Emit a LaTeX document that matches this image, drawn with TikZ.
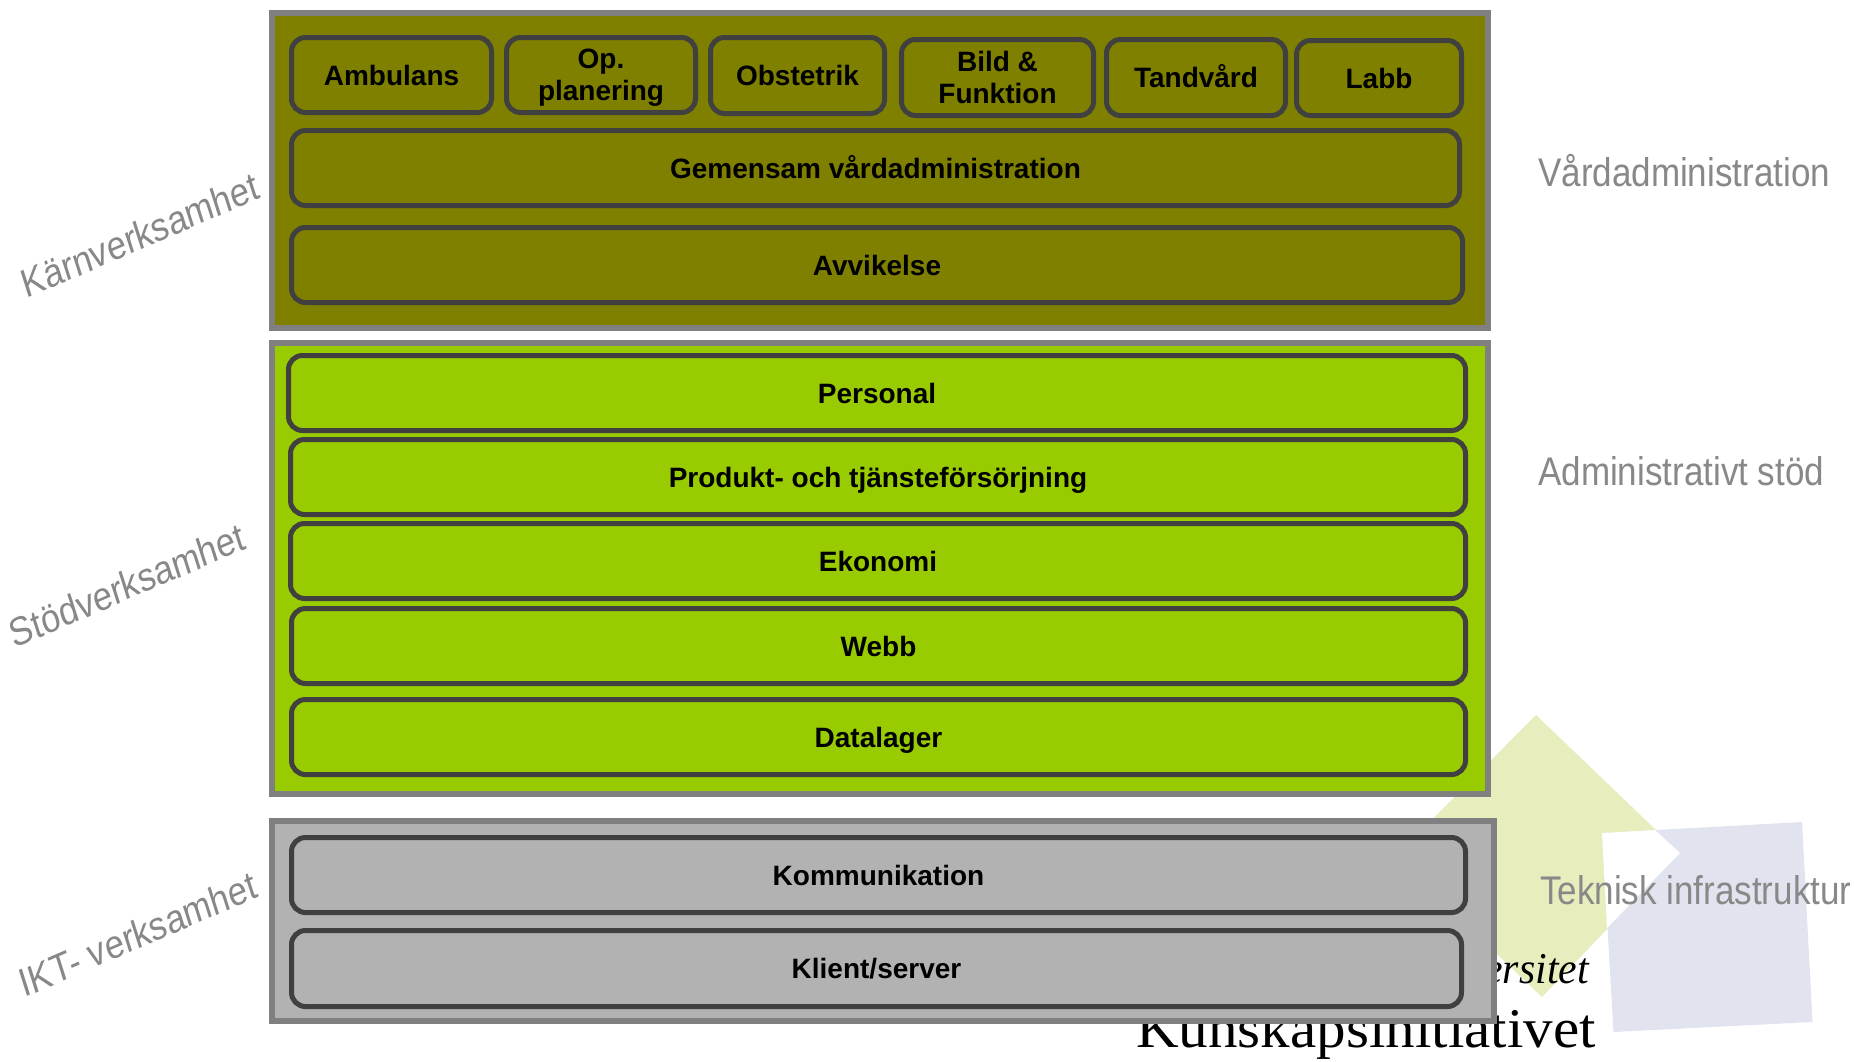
\documentclass[tikz,border=0pt]{standalone}
\usepackage{fontspec}
\setmainfont{Liberation Sans}
\newfontfamily\lblfont[FakeStretch=0.875]{Liberation Sans}
\newfontfamily\slantfont{Liberation Sans}
\newfontfamily\boxfont{Liberation Sans}
\newfontfamily\logofont[FakeStretch=1.055]{Liberation Serif}
\newfontfamily\logoitfont[FakeStretch=0.95]{Liberation Serif}
\definecolor{olivefill}{HTML}{808000}
\definecolor{greenfill}{HTML}{99CC00}
\definecolor{greyfill}{HTML}{B2B2B2}
\definecolor{edgeout}{HTML}{808080}
\definecolor{edgein}{HTML}{404040}
\definecolor{labelgrey}{HTML}{888888}
\definecolor{logoyellow}{HTML}{E8EDBE}
\definecolor{logoblue}{HTML}{E1E4EE}
\tikzset{
  panel/.style={draw=edgeout,line width=6pt,inner sep=0pt,outer sep=0pt},
  modbox/.style={draw=edgein,line width=5pt,rounded corners=14pt,inner sep=0pt,outer sep=0pt,
    align=center,font=\boxfont\bfseries\fontsize{28}{32}\selectfont,text=black},
  sidelabel/.style={text=labelgrey,font=\lblfont\fontsize{40}{46}\selectfont,inner sep=0pt,anchor=west},
  slantlabel/.style={text=labelgrey,font=\slantfont\fontsize{40}{46}\selectfont,inner sep=0pt,transform shape}
}
% a line of box text whose centring ignores its descenders
\newcommand{\capline}[1]{\raisebox{0pt}[20pt][0pt]{#1}}
% outer-edge coordinates: name, x1, y1, x2, y2, fill, text
\newcommand{\panelat}[6]{%
  \pgfmathsetmacro{\boxw}{#4-#2-6}\pgfmathsetmacro{\boxh}{#5-#3-6}%
  \node[panel,fill=#6,minimum width=\boxw pt,minimum height=\boxh pt] (#1) at ({(#2+#4)/2},{(#3+#5)/2}) {};}
\newcommand{\modat}[7]{%
  \pgfmathsetmacro{\boxw}{#4-#2-5}\pgfmathsetmacro{\boxh}{#5-#3-5}%
  \node[modbox,fill=#6,minimum width=\boxw pt,minimum height=\boxh pt] (#1) at ({(#2+#4)/2},{(#3+#5)/2}) {#7};}
\begin{document}
\begin{tikzpicture}[x=1pt,y=-1pt]
\useasboundingbox (0,0) rectangle (1854,1061);
\fill[white] (0,0) rectangle (1854,1061);
% logo
\fill[logoyellow] (1536,715) -- (1680,853) -- (1542,997) -- (1395,857) -- cycle;
\fill[logoblue] (1602,833) -- (1802,822) -- (1812.5,1022) -- (1613.5,1032) -- cycle;
\fill[white] (1602,833) -- (1655,830) -- (1680,853) -- (1607,928) -- cycle;
\node[font=\logoitfont\itshape\fontsize{44}{50}\selectfont,text=black,inner sep=0pt,anchor=base east] (logoa) at (1589,983) {ersitet};
\node[font=\logofont\fontsize{56}{60}\selectfont,text=black,inner sep=0pt,anchor=base west] (logob) at (1136,1047) {Kunskapsinitiativet};
% panels
\panelat{pa}{269}{10}{1491}{331}{olivefill}
\panelat{pb}{269}{340}{1491}{797}{greenfill}
\panelat{pc}{269}{818}{1497}{1024}{greyfill}
% top row
\modat{ambulans}{289}{35}{494}{115}{olivefill}{\capline{Ambulans}}
\modat{op}{504}{35}{698}{115}{olivefill}{Op.\\\capline{planering}}
\modat{obstetrik}{708}{35}{887}{116}{olivefill}{\capline{Obstetrik}}
\modat{bild}{899}{37}{1096}{118}{olivefill}{Bild \&\\\capline{Funktion}}
\modat{tand}{1104}{37}{1288}{118}{olivefill}{\capline{Tandvård}}
\modat{labb}{1294}{38}{1464}{118}{olivefill}{\capline{Labb}}
\modat{gem}{289}{128}{1462}{208}{olivefill}{\capline{Gemensam vårdadministration}}
\modat{avv}{289}{225}{1465}{305}{olivefill}{\capline{Avvikelse}}
% green
\modat{pers}{286}{353}{1468}{433}{greenfill}{\capline{Personal}}
\modat{prod}{288}{437}{1468}{517}{greenfill}{\capline{Produkt- och tjänsteförsörjning}}
\modat{eko}{288}{521}{1468}{601}{greenfill}{\capline{Ekonomi}}
\modat{webb}{289}{606}{1468}{686}{greenfill}{\capline{Webb}}
\modat{data}{289}{697}{1468}{777}{greenfill}{\capline{Datalager}}
% grey
\modat{komm}{289}{835}{1468}{915}{greyfill}{\capline{Kommunikation}}
\modat{klient}{289}{928}{1464}{1009}{greyfill}{\capline{Klient/server}}
% side labels
\node[sidelabel] (l1) at (1538,171) {Vårdadministration};
\node[sidelabel] (l2) at (1538,471) {Administrativt stöd};
\node[sidelabel] (l3) at (1540,890) {Teknisk infrastruktur};
\begin{scope}[shift={(140,235)},xscale=0.86,rotate=20.3]
\node[slantlabel] (s1) at (0,0) {Kärnverksamhet};
\end{scope}
\begin{scope}[shift={(127,585)},xscale=0.86,rotate=20.3]
\node[slantlabel] (s2) at (0,0) {Stödverksamhet};
\end{scope}
\begin{scope}[shift={(138,934)},xscale=0.86,rotate=20.3]
\node[slantlabel] (s3) at (0,0) {IKT- verksamhet};
\end{scope}
\end{tikzpicture}
\end{document}
